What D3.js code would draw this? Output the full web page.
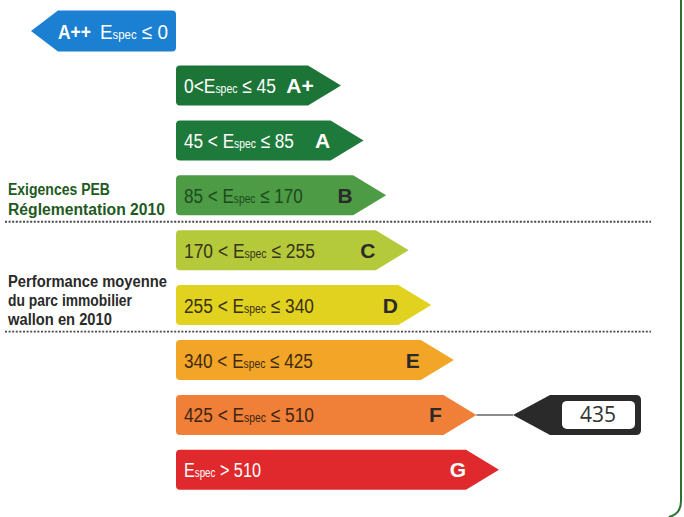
<!DOCTYPE html>
<html><head><meta charset="utf-8">
<script src="https://cdn.jsdelivr.net/npm/d3@7"></script>
<style>
html,body{margin:0;padding:0;background:#fff;}
svg{display:block;}
</style></head>
<body>
<svg id="chart" width="684" height="517"></svg>
<script>
// ---- data ----
const classes = ["A+", "A", "B", "C", "D", "E", "F", "G"];
const lowerBounds = [0, 45, 85, 170, 255, 340, 425, 510];
const upperBounds = [45, 85, 170, 255, 340, 425, 510, null];
const topClass = "A++";
const topUpper = 0;
const currentValue = 435;
const noteAfter = ["B", "D"];
const noteLines = [["Exigences PEB", "Réglementation 2010"], ["Performance moyenne", "du parc immobilier", "wallon en 2010"]];

// ---- styles ----
const fillColors = ["#1c7537", "#1e7a3a", "#4d9b45", "#b4ca3b", "#e1d220", "#f2a526", "#f08038", "#df292c"];
const textColors = ["#fff", "#fff", "#1c4a1e", "#3a3418", "#3a3010", "#3d2a12", "#3d2412", "#fff"];
const rangeWidths = [92, 110, 119, 131, 130, 129, 130, 77];
const noteWidths = [[102, 157], [159, 124, 104]];
const font = "'Liberation Sans','Arial',sans-serif";

const svg = d3.select("#chart");
svg.append("rect").attr("width", 684).attr("height", 517).attr("fill", "#fff");

// right frame border
svg.append("path")
  .attr("d", "M681,0 L681,501 Q681,514 669,517")
  .attr("fill", "none").attr("stroke", "#2e6f32").attr("stroke-width", 2);

const y = d3.scaleBand().domain(classes).range([58.05, 497.25]).paddingInner(0.2714).paddingOuter(0.1357);
const tipX = d3.scaleLinear().domain([0, classes.length - 1]).range([341, 499]);
const color = d3.scaleOrdinal().domain(classes).range(fillColors);
const tcolor = d3.scaleOrdinal().domain(classes).range(textColors);
const x0 = 176, point = 33, r = 4;
const h = y.bandwidth();

// squeeze a text horizontally to a target width (condensed look)
function fit(textSel, x, yy, target) {
  const node = textSel.node();
  const natural = node.getComputedTextLength();
  const k = target / natural;
  textSel.attr("transform", `translate(${x},${yy}) scale(${k},1)`);
}

function arrowRight(x, yTop, tip, hh) {
  const cy = yTop + hh / 2;
  const bodyEnd = tip - point;
  return `M${x + r},${yTop} L${bodyEnd},${yTop} L${tip},${cy} L${bodyEnd},${yTop + hh} L${x + r},${yTop + hh} Q${x},${yTop + hh} ${x},${yTop + hh - r} L${x},${yTop + r} Q${x},${yTop} ${x + r},${yTop} Z`;
}

function espec(sel, prefix, suffix, size) {
  sel.append("tspan").text(prefix + "E");
  sel.append("tspan").attr("font-size", size * 0.6).text("spec");
  sel.append("tspan").text(suffix);
}

const rows = svg.selectAll("g.row").data(classes).join("g").attr("class", "row");
rows.append("path")
  .attr("d", (d, i) => arrowRight(x0, y(d), tipX(i), h))
  .attr("fill", d => color(d));

rows.each(function (d, i) {
  const g = d3.select(this);
  const t = g.append("text")
    .attr("font-family", font).attr("font-size", 21)
    .attr("fill", tcolor(d));
  const lo = lowerBounds[i], hi = upperBounds[i];
  if (hi === null) espec(t, "", " > " + lo, 21);
  else if (i === 0) espec(t, lo + "<", " ≤ " + hi, 21);
  else espec(t, lo + " < ", " ≤ " + hi, 21);
  fit(t, 184, y(d) + h / 2 + 7.5, rangeWidths[i]);
});

rows.append("text")
  .attr("x", (d, i) => tipX(i) - 41)
  .attr("y", d => y(d) + h / 2 + 7.5)
  .attr("text-anchor", "middle")
  .attr("font-family", font).attr("font-weight", "bold").attr("font-size", 21)
  .attr("fill", d => tcolor(d) === "#fff" ? "#fff" : "#2a2a2a")
  .text(d => d);

// A++ (left-pointing)
const aTop = 10.5, aH = 41, aLeft = 31, aPoint = 27, aRight = 176;
svg.append("path")
  .attr("d", `M${aLeft},${aTop + aH / 2} L${aLeft + aPoint},${aTop} L${aRight - r},${aTop} Q${aRight},${aTop} ${aRight},${aTop + r} L${aRight},${aTop + aH - r} Q${aRight},${aTop + aH} ${aRight - r},${aTop + aH} L${aLeft + aPoint},${aTop + aH} Z`)
  .attr("fill", "#1b7fd2");
const ap = svg.append("text")
  .attr("font-family", font).attr("font-weight", "bold").attr("font-size", 21)
  .attr("fill", "#fff").text(topClass);
fit(ap, 58, aTop + aH / 2 + 7.5, 33);
const at = svg.append("text")
  .attr("font-family", font).attr("font-size", 21)
  .attr("fill", "#fff");
espec(at, "", " ≤ " + topUpper, 21);
fit(at, 100, aTop + aH / 2 + 7.5, 68);

// separators and notes
const sepY = d => {
  const i = classes.indexOf(d);
  return (y(d) + h + y(classes[i + 1])) / 2 - 1;
};
noteAfter.forEach((cls, gi) => {
  const sy = sepY(cls);
  svg.append("line").attr("x1", 5).attr("x2", 651).attr("y1", sy).attr("y2", sy)
    .attr("stroke", "#4a4a4a").attr("stroke-width", 1.8).attr("stroke-dasharray", "2,1.6");
  const lines = noteLines[gi];
  const n = lines.length;
  const lh = gi === 0 ? 19.5 : 19;
  const last = gi === 0 ? sy - 7 : sy - 6.5;
  lines.forEach((line, k) => {
    const t = svg.append("text")
      .attr("font-family", font).attr("font-weight", "bold")
      .attr("font-size", 17)
      .attr("fill", gi === 0 ? "#1e5a22" : "#2a2a2a")
      .text(line);
    fit(t, 8, last - (n - 1 - k) * lh, noteWidths[gi][k]);
  });
});

// current value marker
const ci = lowerBounds.findIndex((lo, i) => currentValue > lo && (upperBounds[i] === null || currentValue <= upperBounds[i]));
const cls = classes[ci];
const my = y(cls) + h / 2;
const mTip = 513, mBody = 550, mRight = 641, mh = h;
svg.append("line").attr("x1", tipX(ci)).attr("x2", mTip).attr("y1", my).attr("y2", my)
  .attr("stroke", "#666").attr("stroke-width", 1.5);
svg.append("path")
  .attr("d", `M${mTip},${my} L${mBody},${my - mh / 2} L${mRight - 5},${my - mh / 2} Q${mRight},${my - mh / 2} ${mRight},${my - mh / 2 + 5} L${mRight},${my + mh / 2 - 5} Q${mRight},${my + mh / 2} ${mRight - 5},${my + mh / 2} L${mBody},${my + mh / 2} Z`)
  .attr("fill", "#2a2a2a");
svg.append("rect").attr("x", 562).attr("y", my - 14).attr("width", 73).attr("height", 28).attr("rx", 5)
  .attr("fill", "#fff");
svg.append("text").attr("x", 598).attr("y", my + 7.5).attr("text-anchor", "middle")
  .attr("font-family", "'Open Sans','Liberation Sans',sans-serif").attr("font-size", 21).attr("fill", "#333")
  .text(currentValue);
</script>
</body></html>
